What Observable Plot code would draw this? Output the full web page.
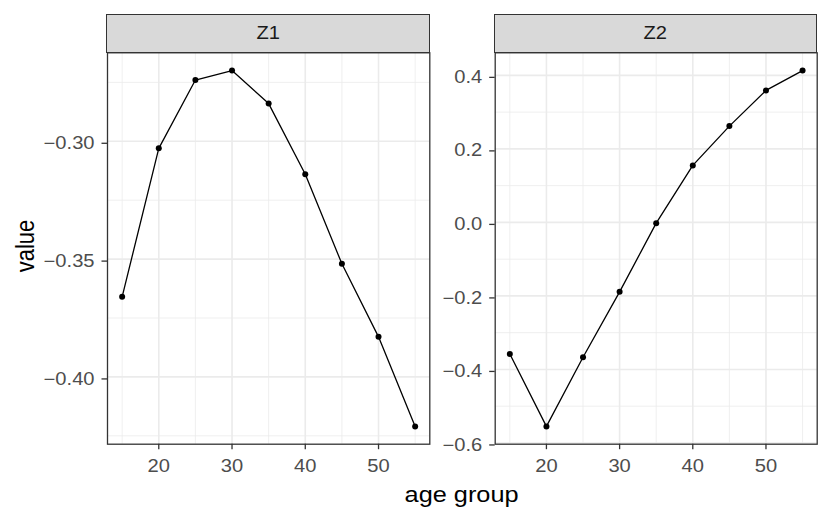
<!DOCTYPE html>
<html>
<head>
<meta charset="utf-8">
<script src="https://cdn.jsdelivr.net/npm/d3@7"></script>
<script src="https://cdn.jsdelivr.net/npm/@observablehq/plot@0.6"></script>
<style>
  html, body { margin: 0; padding: 0; background: #fff; }
  #wrap { position: relative; width: 830px; height: 519px; font-family: "Liberation Sans", Arial, Helvetica, sans-serif; overflow: hidden; }
  .panel { position: absolute; top: 0; }
  .strip { position: absolute; box-sizing: border-box; background: #D9D9D9; border: 1.3px solid #333333;
           color: #1A1A1A; font-size: 17.5px; display: flex; align-items: center; justify-content: center; }
  .strip span { display: inline-block; transform: scaleX(1.15); }
  .title { position: absolute; color: #000; font-size: 22px; white-space: nowrap; line-height: 1; }
</style>
</head>
<body>
<div id="wrap"></div>
<script>
// ---- data ----
const ageGroups = [15, 20, 25, 30, 35, 40, 45, 50, 55];
const z1Values = [-0.366, -0.303, -0.274, -0.270, -0.284, -0.314, -0.352, -0.383, -0.421];
const z2Values = [-0.358, -0.555, -0.367, -0.189, -0.002, 0.155, 0.262, 0.359, 0.413];
const facetNames = ["Z1", "Z2"];

const xTicks = [20, 30, 40, 50];
const xMinor = [15, 25, 35, 45, 55];
const z1Ticks = [-0.40, -0.35, -0.30];
const z1Minor = [-0.425, -0.375, -0.325, -0.275];
const z2Ticks = [-0.6, -0.4, -0.2, 0.0, 0.2, 0.4];
const z2Minor = [-0.5, -0.3, -0.1, 0.1, 0.3];

const xLabel = "age group";
const yLabel = "value";

// ---- helpers ----
function padded(vals) {
  const [a, b] = d3.extent(vals);
  const r = b - a;
  return [a - 0.05 * r, b + 0.05 * r];
}
const STRETCH = 1.15;

const W = 830, H = 519;
const panelTop = 52.3, panelBottom = 443.7;
const stripTop = 13.7;

const panels = [
  { name: facetNames[0], values: z1Values, yTicks: z1Ticks, yMinor: z1Minor, fmt: d3.format(".2f"),
    left: 0, width: 440, mL: 107, mR: 10.7 },
  { name: facetNames[1], values: z2Values, yTicks: z2Ticks, yMinor: z2Minor, fmt: d3.format(".1f"),
    left: 440, width: 390, mL: 54.7, mR: 13.3 }
];

const wrap = document.getElementById("wrap");

panels.forEach(p => {
  const data = ageGroups.map((a, i) => ({ age: a, value: p.values[i] }));
  const minus = s => s.replace("-", "\u2212");
  const chart = Plot.plot({
    width: p.width,
    height: H,
    marginLeft: p.mL,
    marginRight: p.mR,
    marginTop: panelTop,
    marginBottom: H - panelBottom,
    style: { fontFamily: "'Liberation Sans', Arial, Helvetica, sans-serif", fontSize: "17.5px", background: "transparent", overflow: "visible" },
    x: { domain: padded(ageGroups) },
    y: { domain: padded(p.values) },
    marks: [
      Plot.ruleX(xMinor, { stroke: "#EBEBEB", strokeWidth: 0.8 }),
      Plot.ruleY(p.yMinor, { stroke: "#EBEBEB", strokeWidth: 0.8 }),
      Plot.ruleX(xTicks, { stroke: "#EBEBEB", strokeWidth: 1.6 }),
      Plot.ruleY(p.yTicks, { stroke: "#EBEBEB", strokeWidth: 1.6 }),
      Plot.line(data, { x: "age", y: "value", stroke: "black", strokeWidth: 1.3 }),
      Plot.dot(data, { x: "age", y: "value", r: 3, fill: "black" }),
      Plot.frame({ stroke: "#333333", strokeWidth: 1.3 }),
      Plot.axisX(xTicks, { tickSize: 5.5, tickPadding: 10, stroke: "#333333", strokeWidth: 1.3, fill: "#4D4D4D", label: null, tickFormat: d => String(d) }),
      Plot.axisY(p.yTicks, { tickSize: 5.5, tickPadding: 7.5, stroke: "#333333", strokeWidth: 1.3, fill: "#4D4D4D", label: null, dy: 2, tickFormat: d => minus(p.fmt(d)) })
    ]
  });
  chart.classList.add("panel");
  chart.style.left = p.left + "px";
  wrap.appendChild(chart);
  // widen glyphs horizontally to match the reference's proportions
  chart.querySelectorAll("text").forEach(t => {
    const len = t.getComputedTextLength();
    if (len > 0) {
      t.setAttribute("textLength", (len * STRETCH).toFixed(2));
      t.setAttribute("lengthAdjust", "spacingAndGlyphs");
    }
  });

  const strip = document.createElement("div");
  strip.className = "strip";
  strip.style.left = (p.left + p.mL - 0.65) + "px";
  strip.style.top = stripTop + "px";
  strip.style.width = (p.width - p.mL - p.mR + 1.3) + "px";
  strip.style.height = (panelTop - stripTop + 0.65) + "px";
  const sp = document.createElement("span");
  sp.textContent = p.name;
  strip.appendChild(sp);
  wrap.appendChild(strip);
});

// axis titles
const xt = document.createElement("div");
xt.className = "title";
xt.textContent = xLabel;
wrap.appendChild(xt);
const xl = panels[0].left + panels[0].mL, xr = panels[1].left + panels[1].width - panels[1].mR;
xt.style.left = ((xl + xr) / 2 - xt.offsetWidth / 2) + "px";
xt.style.top = "484px";
xt.style.transform = `scaleX(${STRETCH})`;

const yt = document.createElement("div");
yt.className = "title";
yt.textContent = yLabel;
wrap.appendChild(yt);
const ycx = 26, ycy = (panelTop + panelBottom) / 2 - 2;
yt.style.left = (ycx - yt.offsetWidth / 2) + "px";
yt.style.top = (ycy - yt.offsetHeight / 2) + "px";
yt.style.transform = `scaleX(${STRETCH}) rotate(-90deg)`;
</script>
</body>
</html>
